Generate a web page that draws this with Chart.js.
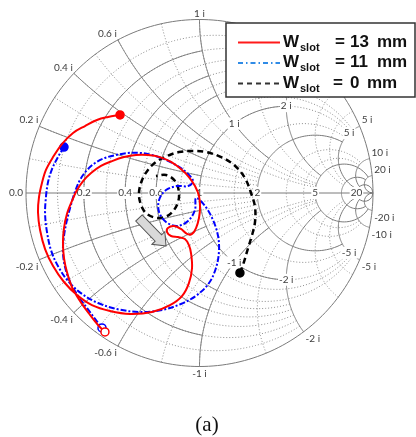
<!DOCTYPE html>
<html>
<head>
<meta charset="utf-8">
<title>Smith chart</title>
<script src="https://cdn.jsdelivr.net/npm/chart.js"></script>
<style>
    body { margin: 0; background: #fff; }
</style>
</head>
<body>
<canvas id="smith" width="416" height="437"></canvas>
<script>
    const red_re = [-0.458, -0.527, -0.591, -0.660, -0.729, -0.793, -0.844, -0.885, -0.908, -0.925, -0.931, -0.919, -0.890, -0.844, -0.781, -0.706, -0.620, -0.516, -0.401, -0.274, -0.170, -0.101, -0.061, -0.043, -0.049, -0.061, -0.084, -0.124, -0.164, -0.187, -0.182, -0.147, -0.107, -0.072, -0.043, -0.020, -0.003, 0.003, -0.003, -0.026, -0.061, -0.107, -0.164, -0.228, -0.297, -0.366, -0.435, -0.504, -0.568, -0.625, -0.671, -0.706, -0.735, -0.764, -0.781, -0.787, -0.781, -0.764, -0.735, -0.689, -0.631, -0.585, -0.545];
    const red_im = [0.450, 0.438, 0.421, 0.386, 0.346, 0.282, 0.207, 0.133, 0.058, -0.023, -0.110, -0.213, -0.323, -0.421, -0.513, -0.588, -0.646, -0.680, -0.697, -0.686, -0.646, -0.594, -0.519, -0.432, -0.346, -0.300, -0.265, -0.254, -0.248, -0.225, -0.202, -0.190, -0.207, -0.236, -0.236, -0.202, -0.144, -0.081, -0.017, 0.040, 0.092, 0.138, 0.179, 0.207, 0.219, 0.219, 0.207, 0.184, 0.156, 0.115, 0.069, 0.017, -0.046, -0.121, -0.202, -0.288, -0.375, -0.455, -0.542, -0.622, -0.703, -0.761, -0.801];

    const blue_re = [-0.781, -0.816, -0.850, -0.873, -0.885, -0.890, -0.879, -0.856, -0.816, -0.758, -0.677, -0.585, -0.476, -0.343, -0.216, -0.107, -0.014, 0.055, 0.095, 0.112, 0.107, 0.078, 0.032, -0.020, -0.026, -0.066, -0.130, -0.193, -0.233, -0.233, -0.193, -0.130, -0.066, -0.037, -0.078, -0.135, -0.205, -0.274, -0.343, -0.412, -0.481, -0.545, -0.602, -0.648, -0.689, -0.718, -0.741, -0.764, -0.781, -0.787, -0.775, -0.746, -0.700, -0.648, -0.602, -0.562];
    const blue_im = [0.265, 0.207, 0.138, 0.063, -0.023, -0.121, -0.225, -0.329, -0.421, -0.507, -0.582, -0.634, -0.669, -0.686, -0.674, -0.640, -0.588, -0.519, -0.432, -0.340, -0.248, -0.156, -0.075, -0.029, -0.098, -0.161, -0.190, -0.167, -0.110, -0.040, 0.017, 0.040, 0.040, 0.069, 0.121, 0.161, 0.196, 0.219, 0.231, 0.231, 0.219, 0.202, 0.173, 0.133, 0.075, 0.006, -0.069, -0.156, -0.248, -0.340, -0.427, -0.513, -0.594, -0.663, -0.726, -0.778];

    const black_re = [0.233, 0.256, 0.280, 0.303, 0.320, 0.320, 0.297, 0.268, 0.228, 0.176, 0.112, 0.037, -0.043, -0.118, -0.187, -0.251, -0.297, -0.331, -0.349, -0.337, -0.303, -0.239, -0.176, -0.130, -0.118, -0.141, -0.193, -0.251];
    const black_im = [-0.461, -0.398, -0.317, -0.242, -0.167, -0.081, 0.000, 0.075, 0.133, 0.179, 0.213, 0.236, 0.242, 0.236, 0.213, 0.179, 0.133, 0.075, 0.000, -0.069, -0.121, -0.144, -0.127, -0.069, 0.000, 0.069, 0.104, 0.098];

    const series_names = ['13', '11', '0'];

    // smith chart grid values
    const axis_labels = [0.2, 0.4, 0.6, 1, 2, 5, 20];
    const rim_labels = [0.2, 0.4, 0.6, 1, 2, 5, 10, 20];
    const inner_labels = [1, 2, 5];
    const major_vals = [0.2, 0.4, 0.6, 1, 2, 5, 10, 20];
    const major_ends = [1, 1, 1, 2, 5, 20, 20, Infinity];
    const minor_vals = [0.1, 0.2, 0.3, 0.4, 0.5, 0.6, 0.8, 1, 1.5, 3, 4];
    const minor_ends = [2, 2, 2, 2, 2, 5, 5, 5, 5, 10, 10];

    // arrow in the middle (gamma plane)
    const arrow_from = [-0.349, -0.144];
    const arrow_to = [-0.193, -0.305];

    function gam(r, x) {
        const d = (r + 1) * (r + 1) + x * x;
        return [(r * r + x * x - 1) / d, 2 * x / d];
    }
    function px(chart, p) {
        return [chart.scales.x.getPixelForValue(p[0]), chart.scales.y.getPixelForValue(p[1])];
    }
    function stroke_pts(chart, pts) {
        const ctx = chart.ctx;
        ctx.beginPath();
        pts.forEach((p, i) => {
            const q = px(chart, p);
            if (i === 0) ctx.moveTo(q[0], q[1]); else ctx.lineTo(q[0], q[1]);
        });
        ctx.stroke();
    }
    function r_circle(chart, r, end) {
        const a = end === Infinity ? Math.PI / 2 - 1e-4 : Math.atan(end);
        const pts = [];
        for (let i = 0; i <= 240; i++) pts.push(gam(r, Math.tan(-a + 2 * a * i / 240)));
        stroke_pts(chart, pts);
    }
    function x_arc(chart, x, end) {
        const a = end === Infinity ? Math.PI / 2 - 1e-4 : Math.atan(end);
        const pts = [];
        for (let i = 0; i <= 160; i++) pts.push(gam(Math.tan(a * i / 160), x));
        stroke_pts(chart, pts);
    }
    function boxed(ctx, text, x, y) {
        const w = ctx.measureText(text).width;
        ctx.fillStyle = '#fff';
        ctx.fillRect(x - w / 2 - 1, y - 6, w + 2, 12);
        ctx.fillStyle = '#404040';
        ctx.fillText(text, x, y);
    }

    const smith_grid = {
        id: 'smith_grid',
        beforeDatasetsDraw(chart) {
            const ctx = chart.ctx;
            ctx.save();
            ctx.lineWidth = 1;
            // minor grid
            ctx.strokeStyle = '#8c8c8c';
            ctx.setLineDash([1, 2]);
            minor_vals.forEach((v, i) => {
                r_circle(chart, v, minor_ends[i]);
                x_arc(chart, v, minor_ends[i]);
                x_arc(chart, -v, minor_ends[i]);
            });
            // major grid
            ctx.strokeStyle = '#7a7a7a';
            ctx.setLineDash([]);
            major_vals.forEach((v, i) => {
                r_circle(chart, v, major_ends[i]);
                x_arc(chart, v, major_ends[i]);
                x_arc(chart, -v, major_ends[i]);
            });
            r_circle(chart, 0, Infinity);
            stroke_pts(chart, [[-1, 0], [1, 0]]);

            // labels
            ctx.font = '10px Lato';
            ctx.textBaseline = 'middle';
            ctx.textAlign = 'center';
            axis_labels.forEach(v => {
                const q = px(chart, [(v - 1) / (v + 1), 0]);
                boxed(ctx, String(v), q[0], q[1]);
            });
            const q0 = px(chart, [-1, 0]);
            ctx.textAlign = 'right';
            ctx.fillStyle = '#404040';
            ctx.fillText('0.0', q0[0] - 3, q0[1]);
            rim_labels.forEach(v => {
                [v, -v].forEach(x => {
                    const g = gam(0, x);
                    const q = px(chart, g);
                    ctx.textAlign = g[0] < -0.1 ? 'right' : (g[0] > 0.1 ? 'left' : 'center');
                    ctx.textBaseline = x > 0 ? 'bottom' : 'top';
                    const dx = g[0] < -0.1 ? -1 : (g[0] > 0.1 ? 2 : 0);
                    ctx.fillText(x + ' i', q[0] + dx, q[1] + (x > 0 ? -1 : 2));
                });
            });
            ctx.textAlign = 'center';
            ctx.textBaseline = 'middle';
            inner_labels.forEach(v => {
                [v, -v].forEach(x => {
                    const q = px(chart, gam(1, x));
                    boxed(ctx, x + ' i', q[0], q[1]);
                });
            });
            ctx.restore();
        }
    };

    const overlay = {
        id: 'overlay',
        afterDraw(chart) {
            const ctx = chart.ctx;
            ctx.save();
            // arrow
            const a = px(chart, arrow_from), b = px(chart, arrow_to);
            const ang = Math.atan2(b[1] - a[1], b[0] - a[0]);
            const len = Math.hypot(b[0] - a[0], b[1] - a[1]);
            ctx.translate(a[0], a[1]);
            ctx.rotate(ang);
            ctx.beginPath();
            ctx.moveTo(0, -4.5);
            ctx.lineTo(len - 11, -4.5);
            ctx.lineTo(len - 11, -9);
            ctx.lineTo(len, 0);
            ctx.lineTo(len - 11, 9);
            ctx.lineTo(len - 11, 4.5);
            ctx.lineTo(0, 4.5);
            ctx.closePath();
            ctx.fillStyle = '#d9d9d9';
            ctx.fill();
            ctx.strokeStyle = '#555';
            ctx.lineWidth = 1;
            ctx.stroke();
            ctx.restore();

            // legend
            ctx.save();
            ctx.fillStyle = '#fff';
            ctx.fillRect(226, 23, 189, 74);
            ctx.strokeStyle = '#333';
            ctx.lineWidth = 1.5;
            ctx.strokeRect(226, 23, 189, 74);
            const styles = [
                {color: '#ff1a1a', dash: []},
                {color: '#2f8be6', dash: [5, 3, 1.5, 3]},
                {color: '#333', dash: [5, 4]}
            ];
            series_names.forEach((name, i) => {
                const y = 42.5 + i * 20.5;
                ctx.strokeStyle = styles[i].color;
                ctx.lineWidth = 1.8;
                ctx.setLineDash(styles[i].dash);
                ctx.beginPath();
                ctx.moveTo(238, y);
                ctx.lineTo(280, y);
                ctx.stroke();
                ctx.setLineDash([]);
                ctx.fillStyle = '#111';
                ctx.textBaseline = 'alphabetic';
                ctx.textAlign = 'left';
                ctx.font = 'bold 17px "Liberation Sans"';
                ctx.fillText('W', 283, y + 4);
                ctx.font = 'bold 11px "Liberation Sans"';
                ctx.fillText('slot', 300, y + 8);
                ctx.font = 'bold 17px "Liberation Sans"';
                ctx.fillText('=', name.length > 1 ? 335 : 333, y + 4);
                ctx.fillText(name, 350, y + 4);
                ctx.fillText('mm', name.length > 1 ? 377 : 367, y + 4);
            });

            // caption
            ctx.fillStyle = '#111';
            ctx.textAlign = 'center';
            ctx.font = '21px "Liberation Serif"';
            ctx.fillText('(a)', 207, 431);
            ctx.restore();
        }
    };

    function trace(label, re, im, color, dash, width, open_end) {
        const n = re.length;
        return {
            label: label,
            data: re.map((v, i) => ({x: v, y: im[i]})),
            showLine: true,
            borderColor: color,
            borderWidth: width,
            borderDash: dash,
            tension: 0.35,
            pointRadius: c => c.dataIndex === 0 ? 4 : (c.dataIndex === n - 1 && open_end ? 4 : 0),
            pointBackgroundColor: c => c.dataIndex === 0 ? color : '#fff',
            pointBorderColor: color,
            pointBorderWidth: 1.5
        };
    }

    new Chart(document.getElementById('smith'), {
        type: 'scatter',
        data: {
            datasets: [
                trace('Wslot = 13 mm', red_re, red_im, '#ff0000', [], 2, true),
                trace('Wslot = 11 mm', blue_re, blue_im, '#0000ff', [6, 2, 2, 2], 2, true),
                trace('Wslot = 0 mm', black_re, black_im, '#000000', [6, 4], 2.5, false)
            ]
        },
        options: {
            responsive: false,
            animation: false,
            layout: {padding: {left: 26, right: 43, top: 19.5, bottom: 70.5}},
            scales: {
                x: {type: 'linear', min: -1, max: 1, display: false},
                y: {type: 'linear', min: -1, max: 1, display: false}
            },
            plugins: {
                legend: {display: false},
                tooltip: {enabled: false}
            }
        },
        plugins: [smith_grid, overlay]
    });
</script>
</body>
</html>
